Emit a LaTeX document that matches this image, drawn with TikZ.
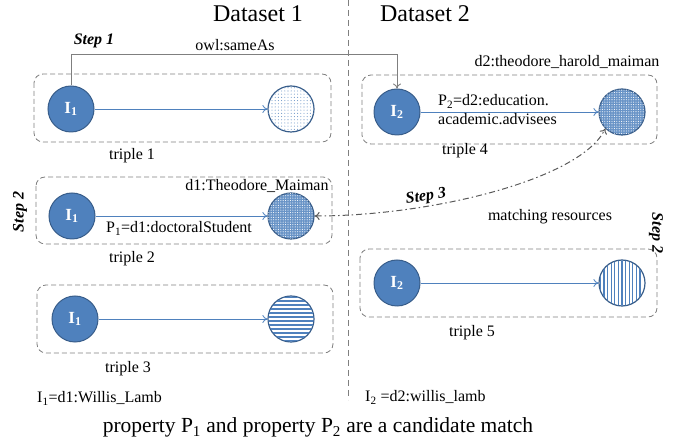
\documentclass[tikz,border=0pt]{standalone}
\usepackage{fontspec}
\setmainfont{Liberation Serif}
\usepackage{tikz}
\usetikzlibrary{arrows.meta, patterns, patterns.meta}

\definecolor{nodeblue}{HTML}{4F81BD}
\definecolor{edgeblue}{HTML}{385D8A}
\definecolor{linegray}{HTML}{7F7F7F}

\begin{document}
\begin{tikzpicture}[x=1pt, y=-1pt,
    every node/.style={font=\fontsize{16}{19}\selectfont},
    subj/.style={circle, fill=nodeblue, draw=edgeblue, line width=1pt,
        minimum size=46pt, inner sep=0pt, text=white,
        font=\fontsize{17}{19}\selectfont\bfseries},
    obj/.style={circle, draw=edgeblue, line width=1.2pt, minimum size=46pt, inner sep=0pt},
    triplebox/.style={draw=linegray, line width=0.8pt, dash pattern=on 5pt off 3pt, rounded corners=9pt},
    link/.style={draw=nodeblue, line width=0.8pt, -{To[length=5pt, width=8pt]}},
    steplbl/.style={font=\fontsize{16}{19}\selectfont\bfseries\itshape}]
    \useasboundingbox (0,0) rectangle (686,443);

    % Dataset titles and divider
    \node[anchor=base, font=\fontsize{24}{28}\selectfont] (ds1) at (258,22) {Dataset 1};
    \node[anchor=base, font=\fontsize{24}{28}\selectfont] (ds2) at (425,22) {Dataset 2};
    \draw[linegray, line width=0.8pt, dash pattern=on 6pt off 4pt] (348,0) -- (348,400);

    % Triple boxes
    \draw[triplebox] (34,74) rectangle (331,142);
    \draw[triplebox] (36,177) rectangle (332,244);
    \draw[triplebox] (37,285) rectangle (333,353);
    \draw[triplebox] (362,75) rectangle (657,144);
    \draw[triplebox] (360,249) rectangle (657,317);

    % Subjects
    \node[subj] (s1) at (71,109) {I\textsubscript{1}};
    \node[subj] (s2) at (72,216) {I\textsubscript{1}};
    \node[subj] (s3) at (75,319) {I\textsubscript{1}};
    \node[subj] (s4) at (397,112) {I\textsubscript{2}};
    \node[subj] (s5) at (397,283) {I\textsubscript{2}};

    % Objects (patterned)
    \node[obj, fill=white, postaction={pattern={Dots[distance=3.2pt, radius=0.55pt]}, pattern color=nodeblue!80}] (o1) at (291,109) {};
    \node[obj, fill=nodeblue!85, postaction={pattern={Dots[distance=2.4pt, radius=0.55pt]}, pattern color=white}] (o2) at (291,216) {};
    \node[obj, fill=white] (o3) at (291,319) {};
    \node[obj, fill=nodeblue!85, postaction={pattern={Dots[distance=2.4pt, radius=0.55pt]}, pattern color=white}] (o4) at (622,112) {};
    \node[obj, fill=white] (o5) at (622,283) {};

    % Stripes of triple 3 and triple 5
    \begin{scope}
        \clip (o3.center) circle (22.6pt);
        \foreach \k in {-22,-18,...,22}
            \draw[nodeblue, line width=2.3pt] ([yshift=\k pt]o3.west) -- ([yshift=\k pt]o3.east);
    \end{scope}
    \begin{scope}
        \clip (o5.center) circle (22.6pt);
        \foreach \k in {-21.6,-18,...,21.6}
            \draw[nodeblue, line width=1.1pt] ([xshift=\k pt]o5.north) -- ([xshift=\k pt]o5.south);
    \end{scope}

    % Properties
    \draw[link] (s1) -- (o1);
    \draw[link] (s2) -- (o2);
    \draw[link] (s3) -- (o3);
    \draw[link] (s4) -- (o4);
    \draw[link] (s5) -- (o5);

    % Labels of the triples
    \node[anchor=base] (t1) at (132,160) {triple 1};
    \node[anchor=base] (t2) at (132,263) {triple 2};
    \node[anchor=base] (t3) at (128,373) {triple 3};
    \node[anchor=base] (t4) at (465,155) {triple 4};
    \node[anchor=base] (t5) at (472,337) {triple 5};
    \node[anchor=base] (n1) at (257,191) {d1:Theodore\_Maiman};
    \node[anchor=base] (p1) at (179,233) {P\textsubscript{1}=d1:doctoralStudent};
    \node[anchor=base] (n2) at (567,67) {d2:theodore\_harold\_maiman};
    \node[anchor=west, align=left, inner sep=0pt] (p2) at (438,110)
        {P\textsubscript{2}=d2:education.\\academic.advisees};

    % Step 1: owl:sameAs
    \coordinate (top) at (0,54);
    \draw[linegray, line width=0.9pt, -{To[length=5pt, width=8pt]}]
        (s1.north) -- (s1.north |- top) -| (s4.north);
    \node[steplbl, anchor=base] (st1) at (94,45) {Step 1};
    \node[anchor=base] (sa) at (235,51) {owl:sameAs};

    % Step 2
    \node[steplbl, rotate=90] (st2a) at (20,212) {Step 2};
    \node[steplbl, rotate=-90] (st2b) at (656,233) {Step 2};

    % Step 3: matching resources
    \draw[draw=black!65, line width=1pt, dash pattern=on 6pt off 3pt on 1.5pt off 3pt,
        {To[length=5pt, width=8pt]}-{To[length=5pt, width=8pt]}]
        (o2.east) .. controls (430,216) and (580,180) .. (o4.south west);
    \node[steplbl, rotate=8] (st3) at (426,197) {Step 3};
    \node[anchor=base] (mr) at (550,221) {matching resources};

    % Instances and caption
    \node[anchor=base west, inner sep=0pt] (i1) at (37,403) {I\textsubscript{1}=d1:Willis\_Lamb};
    \node[anchor=base west, inner sep=0pt] (i2) at (365,402) {I\textsubscript{2} =d2:willis\_lamb};
    \node[anchor=base, font=\fontsize{21.5}{25}\selectfont] (cap) at (318,433)
        {property P\textsubscript{1} and property P\textsubscript{2} are a candidate match};
\end{tikzpicture}
\end{document}
